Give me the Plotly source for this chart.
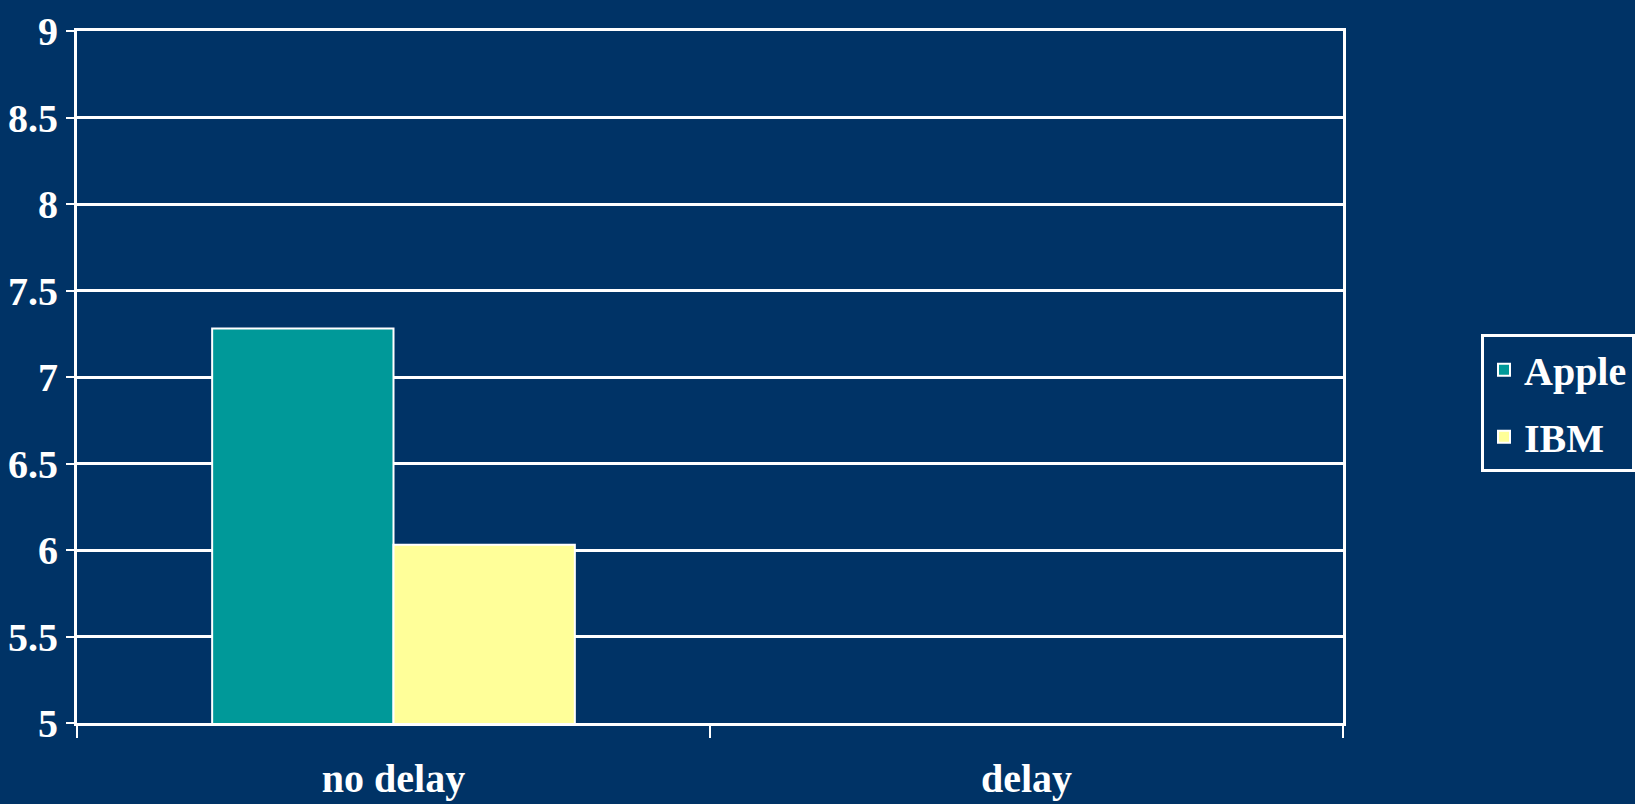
import plotly.graph_objects as go

categories = ["no delay", "delay"]
apple_values = [7.28, None]
ibm_values = [6.03, None]
series_names = ["Apple", "IBM"]
y_ticks = [5, 5.5, 6, 6.5, 7, 7.5, 8, 8.5, 9]
y_tick_labels = ["5", "5.5", "6", "6.5", "7", "7.5", "8", "8.5", "9"]

BG = "#003366"
FONT = "Liberation Serif"

fig = go.Figure()
fig.add_trace(go.Bar(x=categories, y=apple_values, name=series_names[0],
                     marker=dict(color="#009999", line=dict(color="white", width=2)),
                     legendgroup="a"))
fig.add_trace(go.Bar(x=categories, y=ibm_values, name=series_names[1],
                     marker=dict(color="#FFFF99", line=dict(color="white", width=2)),
                     legendgroup="b"))

fig.update_layout(
    width=1635, height=804,
    paper_bgcolor=BG, plot_bgcolor=BG,
    margin=dict(l=77, r=292, t=31, b=81, autoexpand=False),
    barmode="group", bargap=0.427, bargroupgap=0,
    font=dict(family=FONT, color="white", size=40),
    showlegend=True,
    legend=dict(x=1.109, xanchor="left", y=0.462, yanchor="middle",
                bordercolor="white", borderwidth=3, bgcolor=BG,
                font=dict(family=FONT, size=40, color="white", weight="bold"),
                tracegroupgap=12, traceorder="grouped"),
)
fig.update_xaxes(
    type="category", showline=True, linecolor="white", linewidth=3, mirror=True,
    ticks="outside", tickson="boundaries", ticklen=12, tickwidth=2, tickcolor="white",
    tickfont=dict(family=FONT, size=40, color="white", weight="bold"),
    ticklabelstandoff=18, automargin=False,
    showgrid=False,
)
fig.update_yaxes(
    range=[5, 9], tickvals=y_ticks, ticktext=y_tick_labels,
    showline=True, linecolor="white", linewidth=3, mirror=True,
    ticks="outside", ticklen=8, tickwidth=2, tickcolor="white",
    tickfont=dict(family=FONT, size=40, color="white", weight="bold"),
    automargin=False,
    showgrid=True, gridcolor="white", gridwidth=3, zeroline=False,
)

fig.write_html("out.html")
